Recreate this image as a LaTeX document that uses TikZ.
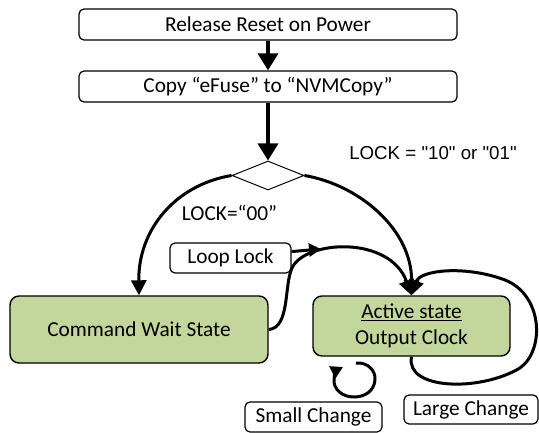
\documentclass[tikz,border=0pt]{standalone}
\usepackage{fontspec}
\setmainfont{Carlito}
\newfontfamily\arialfont{Liberation Sans}
\usepackage{xcolor}
\usetikzlibrary{arrows.meta,shapes.geometric}
\definecolor{stategreen}{HTML}{C3D69B}
\tikzset{
    stepbox/.style={rectangle,rounded corners=5pt,draw=black,line width=1.2pt,inner sep=0pt,font=\fontsize{21.3pt}{26pt}\selectfont,text centered},
    statebox/.style={stepbox,rounded corners=9pt,fill=stategreen,line width=1.4pt},
    flowarrow/.style={-{Triangle[length=17pt,width=20pt]},line width=3.5pt},
    curvearrow/.style={-{Triangle[length=15pt,width=15pt]},line width=3pt},
    condlabel/.style={inner sep=0pt}
}

\begin{document}
\begin{tikzpicture}[x=1pt,y=-1pt]
    \useasboundingbox (0,0) rectangle (539,433);
    \draw (268,24.5) node[stepbox,minimum width=378pt,minimum height=31pt] (release) {Release Reset on Power};
    \draw (268,86.5) node[stepbox,minimum width=378pt,minimum height=31pt] (copy) {Copy “eFuse” to “NVMCopy”};
    \draw[flowarrow] (release) -- (copy);
    \draw (268,175.5) node[diamond,draw=black,line width=1pt,minimum width=72pt,minimum height=29pt,inner sep=0pt] (decide) {};
    \draw[flowarrow] (copy) -- (decide);
    \draw (433,153) node[condlabel,font=\arialfont\fontsize{18.7pt}{22pt}\selectfont] (lockten) {LOCK = "10" or "01"};
    \draw (229.5,213) node[condlabel,font=\fontsize{21.3pt}{26pt}\selectfont] (lockzero) {LOCK=“00”};
    \draw (230.5,258) node[stepbox,minimum width=121pt,minimum height=30pt] (looplock) {Loop Lock};
    \draw (139,329.5) node[statebox,minimum width=258pt,minimum height=67pt] (cmdwait) {Command Wait State};
    \draw (411.5,326) node[statebox,minimum width=197pt,minimum height=60pt,align=center] (active) {\underline{Active state}\\Output Clock};
    \draw (313.5,417) node[stepbox,minimum width=137pt,minimum height=30pt] (small) {Small Change};
    \draw (471,409.5) node[stepbox,minimum width=134pt,minimum height=29pt] (large) {Large Change};
    % transitions
    \draw[curvearrow] (decide.west) .. controls (175,185) and (138,230) .. (cmdwait.north);
    \draw[curvearrow] (decide.east) .. controls (360,185) and (412,230) .. (active.north);
    \draw[curvearrow] (cmdwait.east) .. controls (290,328) and (284,285) .. (292,268) .. controls (305,240) and (390,235) .. (active.north);
    \coordinate (lltip) at (321,249);
    \draw[-{Triangle[length=12pt,width=13pt]},line width=3pt] (looplock.6) -- (lltip);
    \draw[curvearrow] (active.south) .. controls (405,390) and (480,392) .. (520,368) .. controls (545,350) and (543,295) .. (505,280) .. controls (465,265) and (420,270) .. (active.north);
    % small change loop
    \draw[-{Triangle[length=12pt,width=13pt]},line width=3pt] (356,363) .. controls (368,362) and (376,371) .. (375,380) .. controls (374,391) and (365,397) .. (354,397) .. controls (342,397) and (333,389) .. (334,379) .. controls (334,374) and (337,370) .. (343,367);
\end{tikzpicture}
\end{document}
